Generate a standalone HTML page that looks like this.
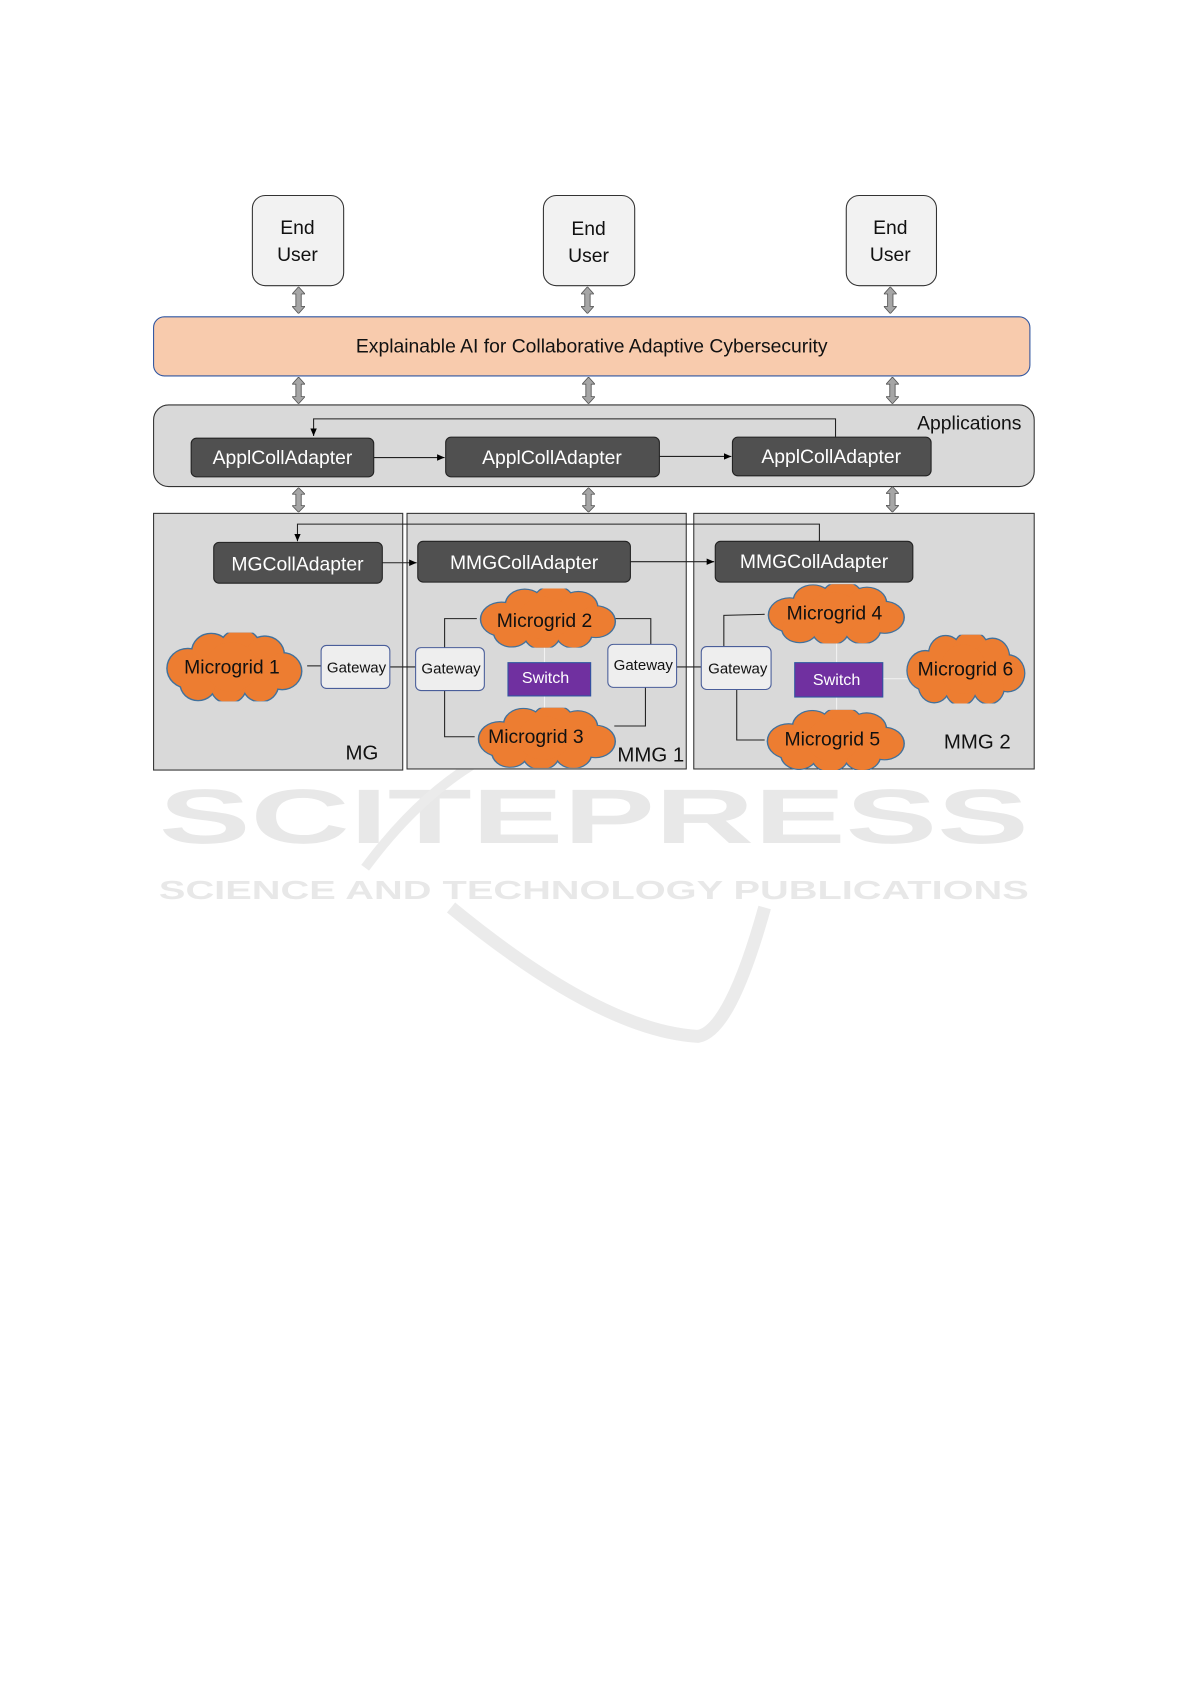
<!DOCTYPE html>
<html><head><meta charset="utf-8"><style>
html,body{margin:0;padding:0;background:#fff;}
svg{display:block;}
text{font-family:"Liberation Sans",sans-serif;}
</style></head><body>
<svg width="1191" height="1684" viewBox="0 0 1109 1568" xmlns="http://www.w3.org/2000/svg">
<defs>
<symbol id="cloud" viewBox="0 0 100 50" preserveAspectRatio="none">
<g fill="#41719c">
<circle cx="20" cy="26" r="15"/><circle cx="36" cy="14" r="14"/><circle cx="56" cy="12" r="15"/><circle cx="73" cy="16" r="14"/><circle cx="85" cy="28" r="14"/><circle cx="70" cy="38" r="13"/><circle cx="48" cy="39" r="13"/><circle cx="27" cy="37" r="13"/><circle cx="50" cy="25" r="19"/>
</g>
<g fill="#ed7d31">
<circle cx="20" cy="26" r="14"/><circle cx="36" cy="14" r="13"/><circle cx="56" cy="12" r="14"/><circle cx="73" cy="16" r="13"/><circle cx="85" cy="28" r="13"/><circle cx="70" cy="38" r="12"/><circle cx="48" cy="39" r="12"/><circle cx="27" cy="37" r="12"/><circle cx="50" cy="25" r="18"/>
</g>
</symbol>
<symbol id="darr" viewBox="0 0 12 26" preserveAspectRatio="none">
<path d="M6 0 L12 7 L8.5 7 L8.5 19 L12 19 L6 26 L0 19 L3.5 19 L3.5 7 L0 7 Z" fill="#a6a6a6" stroke="#555" stroke-width="0.8"/>
</symbol>
<marker id="ah" markerWidth="8" markerHeight="8" refX="7" refY="4" orient="auto" markerUnits="userSpaceOnUse"><path d="M0 1 L7 4 L0 7 Z" fill="#000"/></marker>
</defs>

<!-- watermark -->
<g fill="#e8e8e8">
<text x="148" y="785" font-size="72" font-weight="bold" textLength="810" lengthAdjust="spacingAndGlyphs">SCITEPRESS</text>
<text x="148" y="837" font-size="24" font-weight="bold" textLength="810" lengthAdjust="spacingAndGlyphs">SCIENCE AND TECHNOLOGY PUBLICATIONS</text>
</g>
<path d="M420 845 Q560 960 650 965 Q680 960 712 845" fill="none" stroke="#ebebeb" stroke-width="12"/>
<path d="M340 808 Q420 700 520 680" fill="none" stroke="#ebebeb" stroke-width="9"/>

<!-- end users -->
<g fill="#f2f2f2" stroke="#333" stroke-width="1">
<rect x="235" y="182" width="85" height="84" rx="12"/>
<rect x="506" y="182" width="85" height="84" rx="12"/>
<rect x="788" y="182" width="84" height="84" rx="12"/>
</g>
<g font-size="18" fill="#111" text-anchor="middle">
<text x="277" y="218">End</text><text x="277" y="243">User</text>
<text x="548" y="219">End</text><text x="548" y="244">User</text>
<text x="829" y="218">End</text><text x="829" y="243">User</text>
</g>
<use href="#darr" x="272" y="267" width="12" height="25"/>
<use href="#darr" x="541" y="267" width="12" height="25"/>
<use href="#darr" x="823" y="267" width="12" height="25"/>

<rect x="143" y="295" width="816" height="55" rx="10" fill="#f8cbad" stroke="#2f55a0" stroke-width="1"/>
<text x="551" y="328" font-size="18" text-anchor="middle" fill="#111">Explainable AI for Collaborative Adaptive Cybersecurity</text>

<use href="#darr" x="272" y="351" width="12" height="25"/>
<use href="#darr" x="542" y="351" width="12" height="25"/>
<use href="#darr" x="825" y="351" width="12" height="25"/>

<rect x="143" y="377" width="820" height="76" rx="14" fill="#d9d9d9" stroke="#333"/>
<text x="854" y="400" font-size="18" fill="#111">Applications</text>
<g fill="#505050" stroke="#222">
<rect x="178" y="408" width="170" height="36" rx="5"/>
<rect x="415" y="407" width="199" height="37" rx="5"/>
<rect x="682" y="407" width="185" height="36" rx="5"/>
</g>
<g font-size="18" fill="#fff" text-anchor="middle">
<text x="263" y="432">ApplCollAdapter</text>
<text x="514" y="432">ApplCollAdapter</text>
<text x="774" y="431">ApplCollAdapter</text>
</g>
<g stroke="#222" stroke-width="1" fill="none">
<line x1="348" y1="426" x2="414" y2="426" marker-end="url(#ah)"/>
<line x1="614" y1="425" x2="681" y2="425" marker-end="url(#ah)"/>
<polyline points="778,407 778,390 292,390 292,406" marker-end="url(#ah)"/>
</g>

<use href="#darr" x="272" y="454" width="12" height="23"/>
<use href="#darr" x="542" y="454" width="12" height="23"/>
<use href="#darr" x="825" y="453" width="12" height="24"/>

<g fill="#d9d9d9" stroke="#333">
<rect x="143" y="478" width="232" height="239"/>
<rect x="379" y="478" width="260" height="238"/>
<rect x="646" y="478" width="317" height="238"/>
</g>
<g fill="#505050" stroke="#222">
<rect x="199" y="505" width="157" height="38" rx="5"/>
<rect x="389" y="504" width="198" height="38" rx="5"/>
<rect x="666" y="504" width="184" height="38" rx="5"/>
</g>
<g font-size="18" fill="#fff" text-anchor="middle">
<text x="277" y="531">MGCollAdapter</text>
<text x="488" y="530">MMGCollAdapter</text>
<text x="758" y="529">MMGCollAdapter</text>
</g>
<g stroke="#222" stroke-width="1" fill="none">
<line x1="356" y1="524" x2="388" y2="524" marker-end="url(#ah)"/>
<line x1="587" y1="523" x2="665" y2="523" marker-end="url(#ah)"/>
<polyline points="763,504 763,488 277,488 277,504" marker-end="url(#ah)"/>
<line x1="286" y1="620" x2="299" y2="620"/>
<line x1="363" y1="621" x2="387" y2="621"/>
<polyline points="414,603 414,576 444,576"/>
<polyline points="414,643 414,686 442,686"/>
<polyline points="572,576 606,576 606,600"/>
<polyline points="601,640 601,676 572,676"/>
<line x1="630" y1="621" x2="653" y2="621"/>
<polyline points="674,602 674,573 712,572"/>
<polyline points="686,642 686,689 712,689"/>
</g>
<g stroke="#f2f2f2" stroke-width="1">
<line x1="507" y1="600" x2="507" y2="662"/>
<line x1="779" y1="595" x2="779" y2="665"/>
<line x1="822" y1="632" x2="846" y2="632"/>
</g>

<use href="#cloud" x="148" y="589" width="135" height="64"/>
<use href="#cloud" x="440" y="548" width="135" height="55"/>
<use href="#cloud" x="438" y="659" width="137" height="56"/>
<use href="#cloud" x="708" y="544" width="136" height="55"/>
<use href="#cloud" x="707" y="661" width="137" height="56"/>
<use href="#cloud" x="838" y="591" width="118" height="64"/>
<g font-size="18" fill="#111" text-anchor="middle">
<text x="216" y="627">Microgrid 1</text>
<text x="507" y="584">Microgrid 2</text>
<text x="499" y="692">Microgrid 3</text>
<text x="777" y="577">Microgrid 4</text>
<text x="775" y="694">Microgrid 5</text>
<text x="899" y="629">Microgrid 6</text>
</g>

<g fill="#eeeeee" stroke="#4a5e9a">
<rect x="299" y="601" width="64" height="40" rx="5"/>
<rect x="387" y="603" width="64" height="40" rx="5"/>
<rect x="566" y="600" width="64" height="40" rx="5"/>
<rect x="653" y="602" width="65" height="40" rx="5"/>
</g>
<g font-size="14" fill="#111" text-anchor="middle">
<text x="332" y="626">Gateway</text>
<text x="420" y="627">Gateway</text>
<text x="599" y="624">Gateway</text>
<text x="687" y="627">Gateway</text>
</g>
<rect x="473" y="617" width="77" height="31" fill="#7030a0" stroke="#2f55a0"/>
<rect x="740" y="617" width="82" height="32" fill="#7030a0" stroke="#2f55a0"/>
<g font-size="15" fill="#fff" text-anchor="middle">
<text x="508" y="636">Switch</text>
<text x="779" y="638">Switch</text>
</g>
<g font-size="19" fill="#111" text-anchor="middle">
<text x="337" y="707">MG</text>
<text x="606" y="709">MMG 1</text>
<text x="910" y="697">MMG 2</text>
</g>
</svg>
</body></html>
